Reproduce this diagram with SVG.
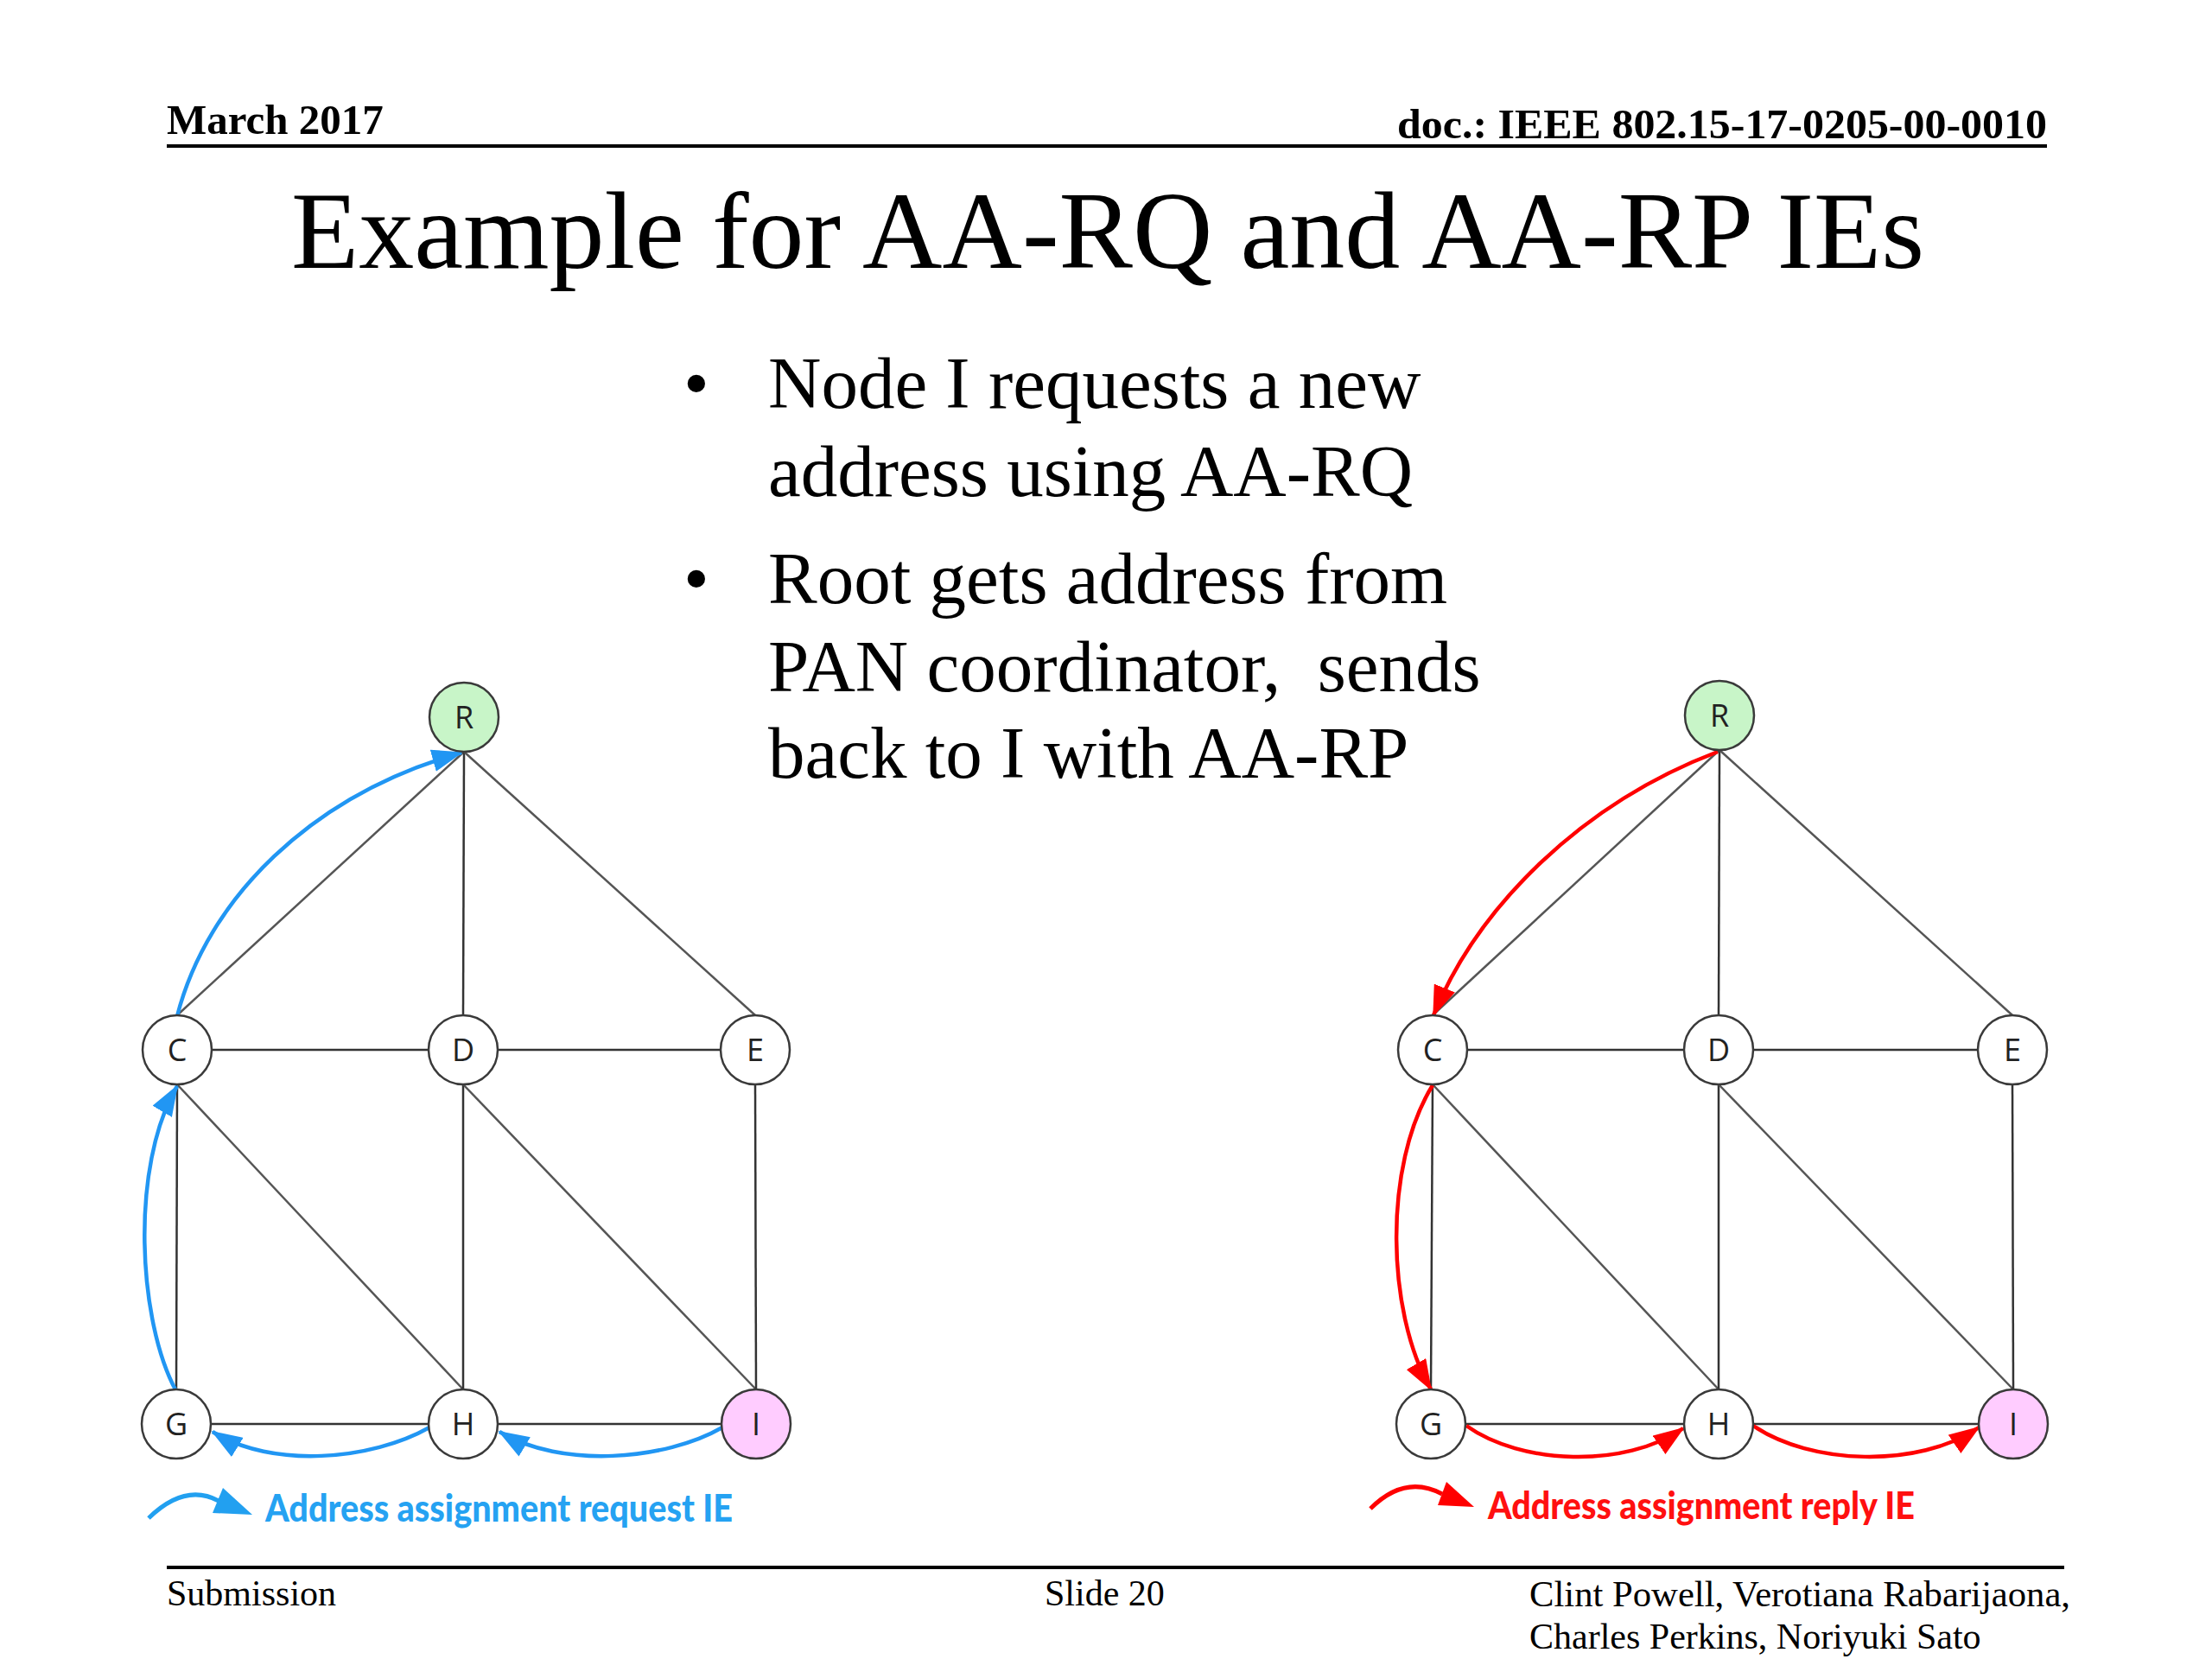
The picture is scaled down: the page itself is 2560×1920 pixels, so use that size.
<svg xmlns="http://www.w3.org/2000/svg" width="2560" height="1920" viewBox="0 0 2560 1920">
<style>
.serif{font-family:"Liberation Serif","Times New Roman",serif;fill:#000}
.hb{font-size:49px;font-weight:bold}
.ft{font-size:42px}
.bul{font-size:85px}
.edge{stroke:#333;stroke-width:2.5;fill:none}
.diag{stroke:#555;stroke-width:2.5;fill:none}
.node{stroke:#3a3a3a;stroke-width:2.5;fill:#fff}
.lbl{font-family:"Open Sans","Liberation Sans",sans-serif;font-size:36px;fill:#222;text-anchor:middle}
.blue{stroke:#2196F3;stroke-width:4.5;fill:none}
.red{stroke:#FF0000;stroke-width:4.5;fill:none}
.leg{font-family:Lato,"Open Sans",sans-serif;font-weight:900;font-size:43px}
</style>
<defs>
<marker id="ab" markerUnits="userSpaceOnUse" markerWidth="36" markerHeight="26" refX="34" refY="13" orient="auto"><path d="M0,0 L36,13 L0,26 z" fill="#2196F3"/></marker>
<marker id="ar" markerUnits="userSpaceOnUse" markerWidth="36" markerHeight="26" refX="34" refY="13" orient="auto"><path d="M0,0 L36,13 L0,26 z" fill="#FF0000"/></marker>
</defs>
<rect width="2560" height="1920" fill="#fff"/>

<g id="header">
<text class="serif hb" x="193" y="155">March 2017</text>
<text class="serif hb" x="2369" y="160" text-anchor="end" textLength="752" lengthAdjust="spacingAndGlyphs">doc.: IEEE 802.15-17-0205-00-0010</text>
<line x1="193" y1="169" x2="2369" y2="169" stroke="#000" stroke-width="4"/>
</g>
<text class="serif" x="1282" y="310" font-size="128" text-anchor="middle">Example for AA-RQ and AA-RP IEs</text>

<g id="bullets" class="serif bul">
<text x="791" y="472">•</text>
<text x="889" y="472">Node I requests a new</text>
<text x="889" y="574">address using AA-RQ</text>
<text x="791" y="698">•</text>
<text x="889" y="698">Root gets address from</text>
<text x="889" y="800" xml:space="preserve">PAN coordinator,  sends</text>
<text x="889" y="900">back to I with AA-RP</text>
</g>

<g id="connectors">
<line class="diag" x1="537" y1="870" x2="205" y2="1175"/>
<line class="edge" x1="537" y1="870" x2="536" y2="1175"/>
<line class="diag" x1="537" y1="870" x2="874" y2="1175"/>
<line class="edge" x1="245" y1="1215" x2="496" y2="1215"/>
<line class="edge" x1="576" y1="1215" x2="834" y2="1215"/>
<line class="edge" x1="205" y1="1255" x2="204" y2="1608"/>
<line class="diag" x1="205" y1="1255" x2="536" y2="1608"/>
<line class="edge" x1="536" y1="1255" x2="536" y2="1608"/>
<line class="diag" x1="536" y1="1255" x2="875" y2="1608"/>
<line class="edge" x1="874" y1="1255" x2="875" y2="1608"/>
<line class="edge" x1="244" y1="1648" x2="496" y2="1648"/>
<line class="edge" x1="576" y1="1648" x2="835" y2="1648"/>
<line class="diag" x1="1990" y1="868" x2="1658" y2="1175"/>
<line class="edge" x1="1990" y1="868" x2="1989" y2="1175"/>
<line class="diag" x1="1990" y1="868" x2="2329" y2="1175"/>
<line class="edge" x1="1698" y1="1215" x2="1949" y2="1215"/>
<line class="edge" x1="2029" y1="1215" x2="2289" y2="1215"/>
<line class="edge" x1="1658" y1="1255" x2="1656" y2="1608"/>
<line class="diag" x1="1658" y1="1255" x2="1989" y2="1608"/>
<line class="edge" x1="1989" y1="1255" x2="1989" y2="1608"/>
<line class="diag" x1="1989" y1="1255" x2="2330" y2="1608"/>
<line class="edge" x1="2329" y1="1255" x2="2330" y2="1608"/>
<line class="edge" x1="1696" y1="1648" x2="1949" y2="1648"/>
<line class="edge" x1="2029" y1="1648" x2="2290" y2="1648"/>
<path class="blue" marker-end="url(#ab)" d="M836,1652 C770,1690 650,1700 578,1657"/>
<path class="blue" marker-end="url(#ab)" d="M497,1652 C430,1690 315,1700 246,1657"/>
<path class="blue" marker-end="url(#ab)" d="M204,1610 C160,1530 150,1350 205,1257"/>
<path class="blue" marker-end="url(#ab)" d="M205,1176 C240,1040 360,920 534,871"/>
<path class="red" marker-end="url(#ar)" d="M1988,870 C1830,930 1710,1050 1659,1175"/>
<path class="red" marker-end="url(#ar)" d="M1658,1256 C1600,1350 1605,1520 1656,1608"/>
<path class="red" marker-end="url(#ar)" d="M1697,1650 C1760,1695 1880,1700 1948,1653"/>
<path class="red" marker-end="url(#ar)" d="M2029,1650 C2095,1695 2220,1700 2290,1652"/>
</g>

<g id="L-R"><circle class="node" cx="537" cy="830" r="40" style="fill:#C8F5C8"/><text class="lbl" x="537" y="843">R</text></g>
<g id="L-C"><circle class="node" cx="205" cy="1215" r="40"/><text class="lbl" x="205" y="1228">C</text></g>
<g id="L-D"><circle class="node" cx="536" cy="1215" r="40"/><text class="lbl" x="536" y="1228">D</text></g>
<g id="L-E"><circle class="node" cx="874" cy="1215" r="40"/><text class="lbl" x="874" y="1228">E</text></g>
<g id="L-G"><circle class="node" cx="204" cy="1648" r="40"/><text class="lbl" x="204" y="1661">G</text></g>
<g id="L-H"><circle class="node" cx="536" cy="1648" r="40"/><text class="lbl" x="536" y="1661">H</text></g>
<g id="L-I"><circle class="node" cx="875" cy="1648" r="40" style="fill:#FFCCFF"/><text class="lbl" x="875" y="1661">I</text></g>

<g id="R-R"><circle class="node" cx="1990" cy="828" r="40" style="fill:#C8F5C8"/><text class="lbl" x="1990" y="841">R</text></g>
<g id="R-C"><circle class="node" cx="1658" cy="1215" r="40"/><text class="lbl" x="1658" y="1228">C</text></g>
<g id="R-D"><circle class="node" cx="1989" cy="1215" r="40"/><text class="lbl" x="1989" y="1228">D</text></g>
<g id="R-E"><circle class="node" cx="2329" cy="1215" r="40"/><text class="lbl" x="2329" y="1228">E</text></g>
<g id="R-G"><circle class="node" cx="1656" cy="1648" r="40"/><text class="lbl" x="1656" y="1661">G</text></g>
<g id="R-H"><circle class="node" cx="1989" cy="1648" r="40"/><text class="lbl" x="1989" y="1661">H</text></g>
<g id="R-I"><circle class="node" cx="2330" cy="1648" r="40" style="fill:#FFCCFF"/><text class="lbl" x="2330" y="1661">I</text></g>

<g id="legend-request">
<path d="M172,1757 Q214,1716 253,1737" stroke="#22A0F0" stroke-width="5" fill="none"/>
<polygon points="246,1751 258,1722 292,1753" fill="#22A0F0"/>
<text class="leg" x="307" y="1761" fill="#25A2F2" textLength="541" lengthAdjust="spacingAndGlyphs">Address assignment request IE</text>
</g>
<g id="legend-reply">
<path d="M1586,1746 Q1626,1706 1669,1729" stroke="#FF0000" stroke-width="5" fill="none"/>
<polygon points="1664,1742 1674,1715 1706,1744" fill="#FF0000"/>
<text class="leg" x="1722" y="1758" fill="#FF1010" textLength="494" lengthAdjust="spacingAndGlyphs">Address assignment reply IE</text>
</g>

<g id="footer">
<line x1="193" y1="1814" x2="2389" y2="1814" stroke="#000" stroke-width="4"/>
<text class="serif ft" x="193" y="1858">Submission</text>
<text class="serif ft" x="1209" y="1858">Slide 20</text>
<text class="serif ft" x="1770" y="1859" textLength="626" lengthAdjust="spacingAndGlyphs">Clint Powell, Verotiana Rabarijaona,</text>
<text class="serif ft" x="1770" y="1908">Charles Perkins, Noriyuki Sato</text>
</g>
</svg>
